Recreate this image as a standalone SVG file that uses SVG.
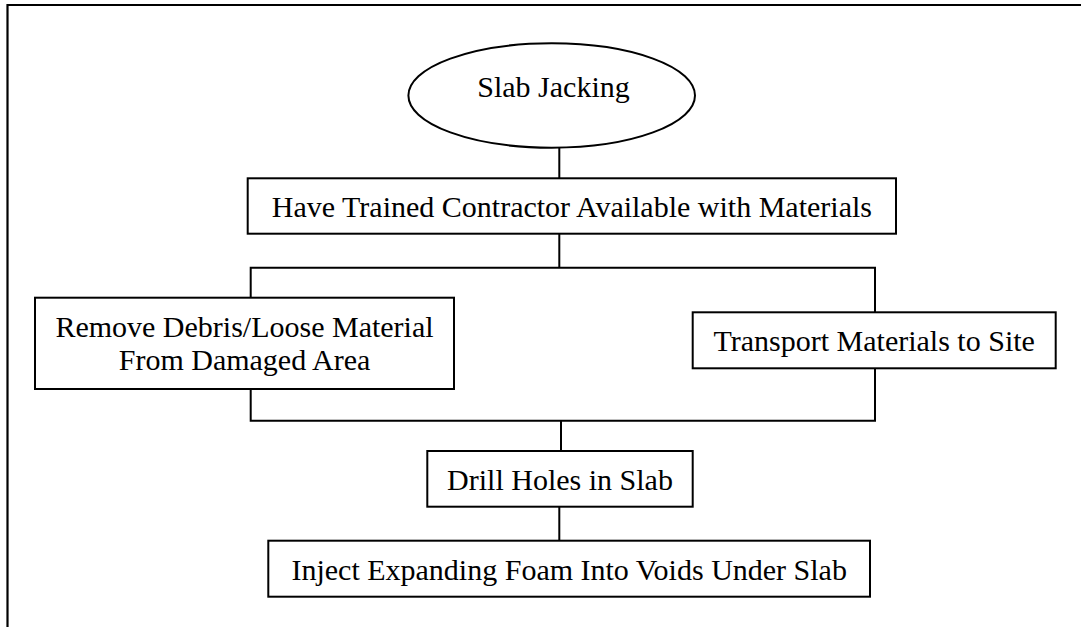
<svg xmlns="http://www.w3.org/2000/svg" width="1081" height="627" viewBox="0 0 1081 627">
  <style>
    .box { fill: #ffffff; stroke: #000000; stroke-width: 2; }
    .link { fill: none; stroke: #000000; stroke-width: 2; }
    .frame { fill: none; stroke: #000000; stroke-width: 2.2; }
    .label { font-family: "Liberation Serif", "Times New Roman", serif; font-size: 30px; fill: #000000; text-anchor: middle; }
  </style>
  <rect x="0" y="0" width="1081" height="627" fill="#ffffff"/>
  <!-- page frame -->
  <path class="frame" d="M7.5,627 V5 H1081"/>

  <g id="connectors">
    <line class="link" x1="559.3" y1="147.7" x2="559.3" y2="178.3"/>
    <line class="link" x1="559.3" y1="233.7" x2="559.3" y2="267.7"/>
    <path class="link" d="M250.7,297.7 V267.7 H875 V312.3"/>
    <path class="link" d="M250.7,389 V420.7 H875 V368.3"/>
    <line class="link" x1="561" y1="420.7" x2="561" y2="451"/>
    <line class="link" x1="559.3" y1="506.7" x2="559.3" y2="540.7"/>
  </g>

  <g id="slab-jacking">
    <ellipse class="box" cx="551.7" cy="95.5" rx="143.3" ry="52.2"/>
    <text class="label" x="553.5" y="96.5">Slab Jacking</text>
  </g>

  <g id="trained-contractor">
    <rect class="box" x="247.7" y="178.3" width="648.3" height="55.4"/>
    <text class="label" x="571.9" y="216.7">Have Trained Contractor Available with Materials</text>
  </g>

  <g id="remove-debris">
    <rect class="box" x="35" y="297.7" width="419" height="91.3"/>
    <text class="label" x="244.5" y="336.7">Remove Debris/Loose Material</text>
    <text class="label" x="244.5" y="370">From Damaged Area</text>
  </g>

  <g id="transport-materials">
    <rect class="box" x="692.7" y="312.3" width="363" height="56"/>
    <text class="label" x="874.2" y="351">Transport Materials to Site</text>
  </g>

  <g id="drill-holes">
    <rect class="box" x="427.3" y="451" width="265.4" height="55.7"/>
    <text class="label" x="560" y="490">Drill Holes in Slab</text>
  </g>

  <g id="inject-foam">
    <rect class="box" x="268.3" y="540.7" width="601.7" height="56"/>
    <text class="label" x="569.2" y="580">Inject Expanding Foam Into Voids Under Slab</text>
  </g>
</svg>
